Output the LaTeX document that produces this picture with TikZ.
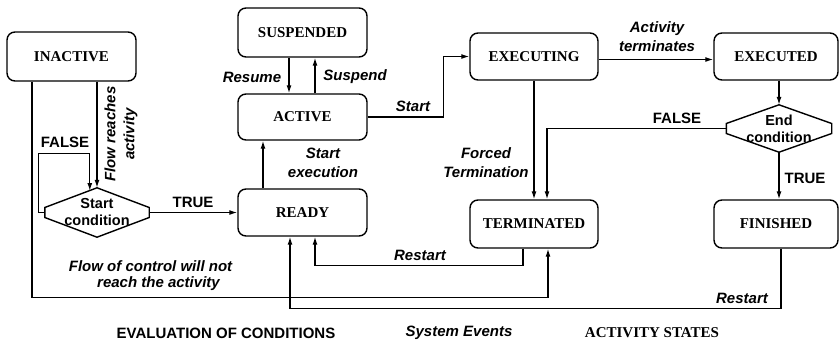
\documentclass[tikz,border=0pt]{standalone}
\usepackage{fontspec}
\setmainfont{Liberation Serif}
\setsansfont{Liberation Sans}
\usetikzlibrary{arrows.meta}
\begin{document}
\begin{tikzpicture}[x=1pt,y=-1pt,
  state/.style={draw, line width=1.4pt, rounded corners=8pt, inner sep=0pt,
    font=\fontsize{15}{18}\selectfont\bfseries, minimum width=129pt, minimum height=48pt},
  cond/.style={inner sep=0pt, minimum width=104pt, minimum height=49pt,
    font=\sffamily\bfseries\fontsize{14.5}{17}\selectfont, align=center},
  lbl/.style={inner sep=0pt, font=\sffamily\bfseries\itshape\fontsize{15}{19}\selectfont, align=center},
  tlbl/.style={inner sep=0pt, font=\sffamily\bfseries\fontsize{15}{18}\selectfont},
  slbl/.style={inner sep=0pt, font=\bfseries\fontsize{15}{18}\selectfont},
  flow/.style={line width=1.3pt, -{Latex[length=8pt,width=5pt]}},
  hexa/.style={line width=1.4pt}
]
\useasboundingbox (0,0) rectangle (840,343);

% states
\node[state, minimum height=49pt] (inactive) at (71.5,56.5) {INACTIVE};
\node[state, minimum height=49pt] (suspended) at (302.5,32.5) {SUSPENDED};
\node[state, minimum height=46pt] (active) at (302.5,117) {ACTIVE};
\node[state, minimum height=47pt] (ready) at (302.5,212.5) {READY};
\node[state, minimum width=128pt, minimum height=47pt] (executing) at (534,56.5) {EXECUTING};
\node[state, minimum width=124pt, minimum height=47pt] (executed) at (776,56.5) {EXECUTED};
\node[state, minimum width=128pt] (terminated) at (534,224) {TERMINATED};
\node[state, minimum width=124pt] (finished) at (776,224) {FINISHED};

% conditions
\node[cond] (sc) at (97,212.5) {Start\\condition};
\draw[hexa] (sc.north) -- ([yshift=5pt]sc.east) -- ([yshift=-5pt]sc.east) -- (sc.south)
  -- ([yshift=-5pt]sc.west) -- ([yshift=5pt]sc.west) -- cycle;
\node[cond, minimum width=105pt, minimum height=47pt] (ec) at (779,128.5) {End\\condition};
\draw[hexa] (ec.north) -- ([yshift=5pt]ec.east) -- ([yshift=-5pt]ec.east) -- (ec.south)
  -- ([yshift=-5pt]ec.west) -- ([yshift=5pt]ec.west) -- cycle;

% connectors
\draw[flow] (sc.north |- inactive.south) -- (sc.north);
\draw[flow] (sc.west) -- ++(-6,0) -- ++(0,-59) -- ++(51,0) -- ++(0,37.5);
\draw[flow] (sc.east) -- (ready.west);
\draw[flow] ([xshift=-39.5pt]inactive.south) -- ++(0,215.5) -| ([xshift=14pt]terminated.south);
\draw[flow] ([xshift=-11pt]terminated.south) -- ++(0,17) -| ([xshift=12.5pt]ready.south);
\draw[flow] ([xshift=5pt]finished.south) -- ++(0,60) -| ([xshift=-12.5pt]ready.south);
\draw[flow] ([xshift=-39.5pt]ready.north) -- ([xshift=-39.5pt]active.south);
\draw[flow] ([xshift=-13.5pt]suspended.south) -- ([xshift=-13.5pt]active.north);
\draw[flow] ([xshift=12.5pt]active.north) -- ([xshift=12.5pt]suspended.south);
\draw[flow] (active.east) -- ++(76,0) |- (executing.west);
\draw[flow] ([yshift=-3pt]executing.east) -- ([yshift=-3pt]executed.west);
\draw[flow] (ec.north |- executed.south) -- (ec.north);
\draw[flow] (ec.south) -- (ec.south |- finished.north);
\draw[flow] (ec.west) -| ([xshift=13pt]terminated.north);
\draw[flow] (executing.south) -- (terminated.north);

% labels
\node[lbl, rotate=90] (lreach) at (121,134) {Flow reaches\\activity};
\node[tlbl] (lfalse1) at (65,142) {FALSE};
\node[tlbl] (ltrue1) at (193,202) {TRUE};
\node[lbl, font=\sffamily\bfseries\itshape\fontsize{15}{16}\selectfont] (lnot) at (150.5,276)
  {Flow of control will not\\\hspace*{16pt}reach the activity};
\node[lbl] (lresume) at (252,77) {Resume};
\node[lbl] (lsuspend) at (355,77) {Suspend};
\node[lbl] (lstartex) at (323,163) {Start\\execution};
\node[lbl] (lstart) at (413,106) {Start};
\node[lbl] (lforced) at (486,163) {Forced\\Termination};
\node[lbl] (lactterm) at (657,37) {Activity\\terminates};
\node[tlbl] (lfalse2) at (677,118) {FALSE};
\node[tlbl] (ltrue2) at (805,178) {TRUE};
\node[lbl] (lrestart1) at (420,255) {Restart};
\node[lbl] (lrestart2) at (742,298) {Restart};

% legend
\node[tlbl] (leval) at (226,333) {EVALUATION OF CONDITIONS};
\node[lbl] (lsys) at (459,333) {System Events};
\node[slbl] (lact) at (652,333) {ACTIVITY STATES};
\end{tikzpicture}
\end{document}
